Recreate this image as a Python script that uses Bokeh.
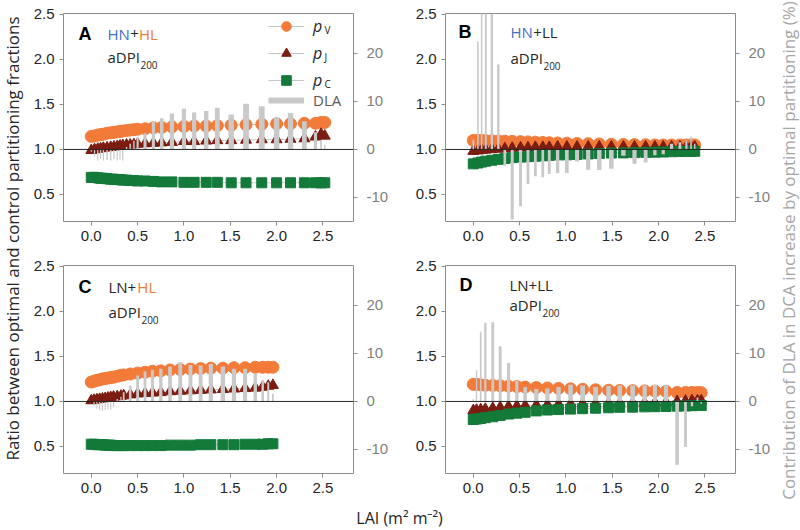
from math import pi
import numpy as np
from bokeh.plotting import figure
from bokeh.layouts import row, column
from bokeh.core.properties import value
from bokeh.models import (Range1d, LinearAxis, FixedTicker, NumeralTickFormatter, Span, Label,
                          Legend, LegendItem, ColumnDataSource)
from bokeh.embed import file_html
from bokeh.resources import INLINE

# ---------------- data ----------------
X_TICKS = [0.0, 0.5, 1.0, 1.5, 2.0, 2.5]
Y_TICKS = [0.5, 1.0, 1.5, 2.0, 2.5]
R_TICKS = [-10, 0, 10, 20]

# Panel A : HN+HL
lai_A = [0.00, 0.035, 0.07, 0.10, 0.13, 0.17, 0.21, 0.245, 0.28, 0.31, 0.34, 0.38, 0.42, 0.46, 0.50, 0.58,
         0.67, 0.76, 0.87, 1.00, 1.11, 1.24, 1.36, 1.51, 1.67, 1.84, 2.00, 2.15, 2.30, 2.42, 2.48, 2.52]
pv_A = [1.145, 1.15, 1.16, 1.165, 1.17, 1.18, 1.185, 1.19, 1.195, 1.20, 1.205, 1.21, 1.215, 1.22, 1.225, 1.23,
        1.24, 1.245, 1.25, 1.255, 1.26, 1.26, 1.265, 1.27, 1.275, 1.28, 1.285, 1.285, 1.29, 1.29, 1.30, 1.30]
pj_A = [0.99, 1.0, 1.005, 1.01, 1.015, 1.02, 1.025, 1.03, 1.035, 1.04, 1.045, 1.05, 1.05, 1.055, 1.06, 1.065,
        1.07, 1.075, 1.08, 1.09, 1.09, 1.095, 1.10, 1.10, 1.105, 1.11, 1.11, 1.115, 1.12, 1.14, 1.17, 1.15]
pc_A = [0.69, 0.69, 0.685, 0.68, 0.68, 0.675, 0.67, 0.67, 0.665, 0.665, 0.66, 0.66, 0.655, 0.655, 0.65, 0.65,
        0.645, 0.64, 0.64, 0.635, 0.635, 0.635, 0.635, 0.63, 0.63, 0.63, 0.63, 0.63, 0.63, 0.63, 0.63, 0.63]
dla_A = [-0.5, -1.5, -2.3, -2.0, -2.3, -2.2, -2.3, -2.0, -2.3, -2.1, -2.3, 0.5, 1.2, 1.8, 2.6, 3.4,
         5.7, 6.5, 7.5, 8.5, 7.7, 8.0, 8.7, 7.3, 9.5, 9.0, 6.7, 7.6, 5.9, 3.6, 1.9, 1.0]

# Panel B : HN+LL
lai_B = [0.0, 0.05, 0.09, 0.135, 0.2, 0.27, 0.34, 0.42, 0.51, 0.59, 0.67, 0.75, 0.82, 0.91, 1.01,
         1.12, 1.24, 1.36, 1.49, 1.62, 1.74, 1.86, 1.96, 2.05, 2.14, 2.23, 2.30, 2.35, 2.39]
pv_B = [1.10, 1.10, 1.10, 1.098, 1.096, 1.094, 1.092, 1.09, 1.087, 1.084, 1.081, 1.078, 1.075, 1.072, 1.07,
        1.067, 1.064, 1.061, 1.058, 1.056, 1.054, 1.052, 1.05, 1.05, 1.05, 1.05, 1.05, 1.05, 1.05]
pj_B = [0.98, 0.985, 0.99, 0.995, 1.0, 1.005, 1.01, 1.015, 1.02, 1.02, 1.025, 1.025, 1.025, 1.03, 1.03,
        1.03, 1.03, 1.03, 1.03, 1.03, 1.03, 1.03, 1.03, 1.03, 1.03, 1.03, 1.03, 1.03, 1.03]
pc_B = [0.84, 0.85, 0.86, 0.87, 0.88, 0.89, 0.90, 0.91, 0.915, 0.92, 0.925, 0.93, 0.935, 0.94, 0.94,
        0.945, 0.95, 0.955, 0.96, 0.962, 0.965, 0.968, 0.97, 0.972, 0.975, 0.977, 0.98, 0.98, 0.98]
dla_B = [2.0, 22.5, 40, 40, 40, 17.7, -3.4, -14.6, -11.8, -7.2, -5.6, -5.8, -5.1, -4.9, -4.9,
         -2.5, -4.2, -4.3, -4.0, -1.3, -3.0, -2.7, -1.2, -1.0, 1.2, 1.5, 1.9, 2.7, 1.2]

# Panel C : LN+HL
lai_C = [0.0, 0.03, 0.06, 0.09, 0.12, 0.15, 0.18, 0.21, 0.24, 0.28, 0.32, 0.35, 0.42, 0.50, 0.58,
         0.66, 0.75, 0.85, 0.96, 1.07, 1.18, 1.29, 1.42, 1.54, 1.66, 1.77, 1.85, 1.91, 1.96]
pv_C = [1.215, 1.225, 1.235, 1.24, 1.25, 1.255, 1.26, 1.265, 1.27, 1.28, 1.29, 1.295, 1.305, 1.315, 1.325,
        1.335, 1.34, 1.35, 1.355, 1.36, 1.365, 1.37, 1.37, 1.375, 1.375, 1.38, 1.38, 1.38, 1.38]
pj_C = [1.01, 1.015, 1.02, 1.025, 1.03, 1.035, 1.04, 1.045, 1.05, 1.055, 1.06, 1.065, 1.075, 1.085, 1.09,
        1.095, 1.10, 1.11, 1.115, 1.12, 1.125, 1.13, 1.135, 1.14, 1.145, 1.15, 1.16, 1.17, 1.18]
pc_C = [0.525, 0.525, 0.52, 0.52, 0.52, 0.515, 0.515, 0.515, 0.51, 0.51, 0.51, 0.51, 0.51, 0.51, 0.51,
        0.51, 0.51, 0.515, 0.515, 0.515, 0.52, 0.52, 0.52, 0.52, 0.525, 0.525, 0.525, 0.53, 0.53]
dla_C = [0.0, -0.8, -1.5, -1.8, -2.0, -1.8, -1.6, -1.7, -1.2, 0.5, 1.0, 1.9, 3.3, 5.4, 6.3,
         6.6, 6.8, 7.3, 8.2, 7.6, 7.5, 7.8, 7.3, 6.8, 6.8, 5.8, 4.4, 4.0, 1.6]

# Panel D : LN+LL
lai_D = [0.0, 0.035, 0.08, 0.13, 0.21, 0.29, 0.38, 0.47, 0.56, 0.68, 0.80, 0.92, 1.05, 1.18, 1.32,
         1.46, 1.58, 1.72, 1.85, 1.96, 2.08, 2.20, 2.29, 2.36, 2.42, 2.46]
pv_D = [1.19, 1.19, 1.185, 1.18, 1.178, 1.175, 1.17, 1.165, 1.16, 1.155, 1.15, 1.145, 1.14, 1.135, 1.13,
        1.125, 1.122, 1.12, 1.117, 1.115, 1.112, 1.10, 1.10, 1.10, 1.10, 1.098]
pj_D = [0.90, 0.905, 0.91, 0.915, 0.925, 0.935, 0.945, 0.95, 0.955, 0.96, 0.965, 0.97, 0.972, 0.975, 0.978,
        0.98, 0.982, 0.984, 0.986, 0.988, 0.99, 1.0, 1.005, 1.01, 1.01, 1.01]
pc_D = [0.80, 0.805, 0.81, 0.82, 0.83, 0.845, 0.86, 0.87, 0.88, 0.895, 0.905, 0.91, 0.915, 0.92, 0.925,
        0.93, 0.935, 0.937, 0.94, 0.942, 0.944, 0.948, 0.95, 0.953, 0.955, 0.955]
dla_D = [0.5, 6.5, 14.5, 16.4, 16.5, 11.5, 8.0, 4.3, 3.0, 2.6, 2.7, 3.0, 3.5, 3.3, 3.0,
         3.2, 3.3, 3.3, 3.3, 3.5, 3.4, -13.2, -9.5, -1.0, 0.8, -0.5]

# ---------------- style ----------------
ORANGE = "#F27B3A"
DRED = "#7C1D12"
GREEN = "#137A3A"
BARG = "#C9C9C9"
LINEG = "#C8C8C8"
BLUE = "#4272C2"
HLOR = "#EE7D33"
TXT = "#262626"
AXG = "#8C8C8C"
RGRAY = "#7F7F7F"

X_LO, X_HI = -0.3, 2.83
Y_LO, Y_HI = 0.2, 2.51
K = 18.75          # % of DLA per unit ratio (right axis aligned: ratio 1 <-> 0 %)
FW, FH = 290, 208

OS_W = {"H": 0.739, "N": 0.781, "L": 0.569, "+": 0.572, "a": 0.556, "D": 0.722, "P": 0.617, "I": 0.266}


def tw(s, size):
    return sum(OS_W[c] for c in s) * size


def make_panel(lai, pv, pj, pc, dla, letter, segs, pos, borders, with_legend=False):
    l, r, t, b = borders
    p = figure(frame_width=FW, frame_height=FH,
               x_range=Range1d(X_LO, X_HI), y_range=Range1d(Y_LO, Y_HI),
               output_backend="svg", toolbar_location=None,
               min_border_left=l, min_border_right=r, min_border_top=t, min_border_bottom=b,
               background_fill_color="white", border_fill_color="white",
               outline_line_color=AXG, outline_line_width=1)
    p.grid.visible = False
    p.extra_y_ranges = {"dla": Range1d((Y_LO - 1) * K, (Y_HI - 1) * K)}

    x = np.asarray(lai, dtype=float)
    widths = np.maximum(0.38 * np.gradient(x), 0.012)
    src = ColumnDataSource(dict(x=lai, pv=pv, pj=pj, pc=pc, dla=dla, w=widths))

    lv = p.line("x", "pv", source=src, line_color=LINEG, line_width=1)
    lj = p.line("x", "pj", source=src, line_color=LINEG, line_width=1)
    lc = p.line("x", "pc", source=src, line_color=LINEG, line_width=1)
    sv = p.scatter("x", "pv", source=src, marker="circle", size=12, fill_color=ORANGE, line_color=ORANGE)
    sj = p.scatter("x", "pj", source=src, marker="triangle", size=11, fill_color=DRED, line_color=DRED)
    sc = p.scatter("x", "pc", source=src, marker="square", size=10, fill_color=GREEN, line_color=GREEN)
    p.vbar(x="x", top="dla", bottom=0, width="w", source=src, y_range_name="dla",
           fill_color=BARG, line_color=None)
    p.add_layout(Span(location=1.0, dimension="width", line_color=TXT, line_width=1))

    # axes
    xa = p.xaxis[0]
    xa.ticker = FixedTicker(ticks=X_TICKS)
    xa.formatter = NumeralTickFormatter(format="0.0")
    ya = p.yaxis[0]
    ya.ticker = FixedTicker(ticks=Y_TICKS)
    ya.formatter = NumeralTickFormatter(format="0.0")
    ra = LinearAxis(y_range_name="dla", ticker=FixedTicker(ticks=R_TICKS),
                    formatter=NumeralTickFormatter(format="0"))
    p.add_layout(ra, "right")
    for ax, col in ((xa, TXT), (ya, TXT), (ra, RGRAY)):
        ax.axis_line_color = None
        ax.major_tick_line_color = AXG
        ax.major_tick_out = 4
        ax.major_tick_in = 0
        ax.minor_tick_line_color = None
        ax.major_label_text_font = "Liberation Sans"
        ax.major_label_text_font_size = "15px"
        ax.major_label_text_color = col
    xa.major_label_standoff = 5
    ya.major_label_standoff = 5
    ra.major_label_standoff = 9

    # panel texts
    lx, tx, ty, ay = pos
    p.add_layout(Label(x=lx, y=FH - ty, x_units="screen", y_units="screen", text=letter,
                       text_font="Liberation Sans", text_font_style="bold", text_font_size="18px",
                       text_color="black", text_baseline="middle", text_align="left"))
    cx = tx
    for s, col in segs:
        p.add_layout(Label(x=cx, y=FH - ty, x_units="screen", y_units="screen", text=s,
                           text_font="Open Sans", text_font_size="15px", text_color=col,
                           text_baseline="middle", text_align="left"))
        cx += tw(s, 15)
    p.add_layout(Label(x=tx, y=FH - ay, x_units="screen", y_units="screen", text="aDPI",
                       text_font="Open Sans", text_font_size="15px", text_color=TXT,
                       text_baseline="middle", text_align="left"))
    p.add_layout(Label(x=tx + tw("aDPI", 15) + 0.5, y=FH - ay - 8, x_units="screen", y_units="screen",
                       text="200", text_font="Open Sans", text_font_size="10px", text_color=TXT,
                       text_baseline="middle", text_align="left"))

    if with_legend:
        dl = p.line(x=[np.nan], y=[np.nan], line_color=BARG, line_width=6, y_range_name="dla")
        common = dict(orientation="vertical", glyph_width=36, glyph_height=24, label_height=24,
                      spacing=3, padding=0, margin=0, label_standoff=9, border_line_color=None,
                      background_fill_alpha=0)
        leg1 = Legend(items=[LegendItem(label=value("p"), renderers=[lv, sv]),
                             LegendItem(label=value("p"), renderers=[lj, sj]),
                             LegendItem(label=value("p"), renderers=[lc, sc])],
                      location=(205, 129), label_text_font="Open Sans", label_text_font_style="italic",
                      label_text_font_size="16px", label_text_color=TXT, **common)
        leg2 = Legend(items=[LegendItem(label=value("DLA"), renderers=[dl])],
                      location=(205, 109), label_text_font="Open Sans",
                      label_text_font_size="15px", label_text_color="#595959", **common)
        p.add_layout(leg1)
        p.add_layout(leg2)
        for sub, yc in (("V", 195), ("J", 168), ("C", 141)):
            p.add_layout(Label(x=261, y=yc - 3, x_units="screen", y_units="screen",
                               text=sub, text_font="Open Sans", text_font_size="10px", text_color=TXT,
                               text_baseline="middle", text_align="left"))
    return p


# borders: (left, right, top, bottom)
pA = make_panel(lai_A, pv_A, pj_A, pc_A, dla_A, "A", [("HN", BLUE), ("+", TXT), ("HL", HLOR)],
                (15, 44, 20, 43), (39, 57, 13, 30), with_legend=True)
pB = make_panel(lai_B, pv_B, pj_B, pc_B, dla_B, "B", [("HN", BLUE), ("+LL", TXT)],
                (13, 65, 18, 44), (35, 41, 13, 30))
pC = make_panel(lai_C, pv_C, pj_C, pc_C, dla_C, "C", [("LN+", TXT), ("HL", HLOR)],
                (15, 45, 21, 46), (39, 57, 14, 30))
pD = make_panel(lai_D, pv_D, pj_D, pc_D, dla_D, "D", [("LN+LL", TXT)],
                (14, 64, 19, 39), (35, 41, 14, 30))


def text_fig(w, h):
    f = figure(width=w, height=h, x_range=Range1d(0, 1), y_range=Range1d(0, 1),
               x_axis_type=None, y_axis_type=None, toolbar_location=None, output_backend="svg",
               min_border=0, outline_line_color=None, background_fill_color="white",
               border_fill_color="white")
    f.grid.visible = False
    return f


H_ROWS = 251 + 252
left = text_fig(24, H_ROWS)
left.add_layout(Label(x=12, y=H_ROWS - 238, x_units="screen", y_units="screen", angle=pi / 2,
                      text="Ratio between optimal and control partitioning fractions",
                      text_font="Open Sans", text_font_size="17px", text_color=TXT,
                      text_align="center", text_baseline="middle"))
right = text_fig(24, H_ROWS)
right.add_layout(Label(x=12, y=H_ROWS - 250, x_units="screen", y_units="screen", angle=pi / 2,
                       text="Contribution of DLA in DCA increase by optimal partitioning (%)",
                       text_font="Open Sans", text_font_size="17px", text_color="#A6A6A6",
                       text_align="center", text_baseline="middle"))
bottom = text_fig(800, 26)
bottom.add_layout(Label(x=399, y=12, x_units="screen", y_units="screen",
                        text="LAI (m\u00b2 m\u207b\u00b2)", text_font="Open Sans", text_font_size="16px",
                        text_color=TXT, text_align="center", text_baseline="middle"))

grid = column(row(pA, pB), row(pC, pD))
layout = column(row(left, grid, right), bottom)

open("out.html", "w").write(file_html(layout, INLINE))
